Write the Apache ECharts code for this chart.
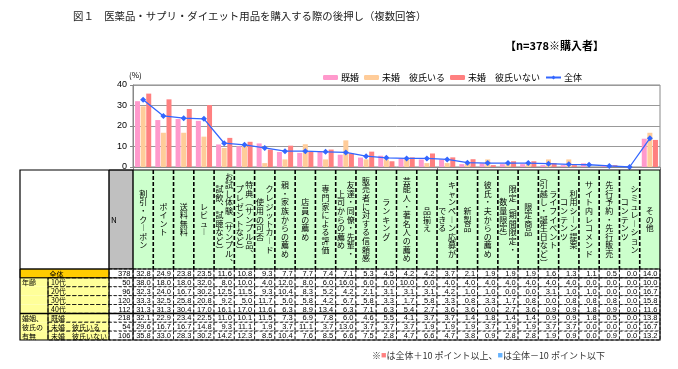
<!DOCTYPE html>
<html><head><meta charset="utf-8">
<script src="https://cdn.jsdelivr.net/npm/echarts@6/dist/echarts.min.js"></script>
<style>html,body{margin:0;padding:0;background:#fff}#c{width:678px;height:369px}</style>
</head><body><div id="c"></div>
<script>
// ---------- DATA ----------
const categories = ['割引・クーポン','ポイント','送料無料','レビュー','お試し体験（サンプル、試飲、試聴など）','特典（サンプル品、プレゼントなど）','クレジットカード使用の可否','親・家族からの薦め','店員の薦め','専門家による評価','友達・同僚・先輩・上司からの薦め','販売者に対する信頼感','ランキング','芸能人・著名人の薦め','品揃え','キャンペーン応募ができる','新製品','彼氏・夫からの薦め','限定（期間限定・数量限定）','限定商品','ライフイベント（引越し・誕生日など）','利用シーン提案コンテンツ','サイト内レコメンド','先行予約・先行販売','シミュレーションコンテンツ','その他'];
// header text split into vertical lines (right line first)
const headerLines = [['割引・クーポン'],['ポイント'],['送料無料'],['レビュー'],['お試し体験（サンプル、','試飲、試聴など）'],['特典（サンプル品、','プレゼントなど）'],['クレジットカード','使用の可否'],['親・家族からの薦め'],['店員の薦め'],['専門家による評価'],['友達・同僚・先輩・','上司からの薦め'],['販売者に対する信頼感'],['ランキング'],['芸能人・著名人の薦め'],['品揃え'],['キャンペーン応募が','できる'],['新製品'],['彼氏・夫からの薦め'],['限定（期間限定・','数量限定）'],['限定商品'],['ライフイベント','（引越し・誕生日など）'],['利用シーン提案','コンテンツ'],['サイト内レコメンド'],['先行予約・先行販売'],['シミュレーション','コンテンツ'],['その他']];
const seriesNames = ['既婚','未婚　彼氏いる','未婚　彼氏いない','全体'];
const total      = [32.8,24.9,23.8,23.5,11.6,10.8,9.3,7.7,7.7,7.4,7.1,5.3,4.5,4.2,4.2,3.7,2.1,1.9,1.9,1.9,1.6,1.3,1.1,0.5,0.0,14.0];
const teens      = [38.0,18.0,18.0,32.0,8.0,10.0,4.0,12.0,8.0,6.0,16.0,6.0,6.0,10.0,6.0,4.0,4.0,4.0,4.0,4.0,4.0,4.0,0.0,0.0,0.0,10.0];
const twenties   = [32.3,24.0,16.7,30.2,12.5,11.5,9.3,10.4,8.3,5.2,4.2,2.1,3.1,3.1,3.1,4.2,1.0,1.0,0.0,0.0,3.1,1.0,1.0,0.0,0.0,16.7];
const thirties   = [33.3,32.5,25.8,20.8,9.2,5.0,11.7,5.0,5.8,4.2,6.7,5.8,3.3,1.7,5.8,3.3,0.8,3.3,1.7,0.8,0.0,0.8,0.8,0.8,0.0,15.8];
const forties    = [31.3,31.3,30.4,17.0,16.1,17.0,11.6,6.3,8.9,13.4,6.3,7.1,6.3,5.4,2.7,3.6,3.6,0.0,2.7,3.6,0.9,0.9,1.8,0.9,0.0,11.6];
const married    = [32.1,22.9,23.4,22.5,11.0,10.1,11.5,7.3,6.9,7.8,6.0,4.6,5.5,4.1,3.7,3.7,1.4,1.8,1.4,1.4,0.9,0.9,1.8,0.5,0.0,13.8];
const singleBf   = [29.6,16.7,16.7,14.8,9.3,11.1,1.9,3.7,11.1,3.7,13.0,3.7,3.7,3.7,1.9,1.9,1.9,3.7,1.9,1.9,3.7,3.7,0.0,0.0,0.0,16.7];
const singleNoBf = [35.8,33.0,28.3,30.2,14.2,12.3,8.5,10.4,7.6,8.5,6.6,7.5,2.8,4.7,6.6,4.7,3.8,0.9,2.8,2.8,1.9,0.9,0.0,0.9,0.0,13.2];
const rowLabels   = ['全体','10代','20代','30代','40代','既婚','未婚　彼氏いる','未婚　彼氏いない'];
const groupLabels = ['','年齢','','','','婚姻、','彼氏の','有無'];
const rowN        = [378,50,96,120,112,218,54,106];
const yTicks = [0,10,20,30,40];

// ---------- LAYOUT ----------
const TL = 20, NL = 109, CL = 133, CR = 660, HT = 170, HB = 269, BB = 340;
const FONT = '"Noto Sans CJK JP", sans-serif';
const tableRows = [total, teens, twenties, thirties, forties, married, singleBf, singleNoBf];

const vmap = {'ー':'︱','（':'︵','）':'︶','、':'︑','－':'︱'};
function vert(s){ return Array.from(s).map(ch => vmap[ch] || ch).join('\n'); }

const bodyData = [];
tableRows.forEach((arr, r) => arr.forEach((v, c) => bodyData.push([c, r, v])));

function headerItem(params, api){
  const i = api.value(0);
  const p = api.coord([i, 0]), s = api.size([1, 1]);
  const x0 = p[0] - s[0]/2, y0 = p[1] - s[1]/2;
  const lines = headerLines[i];
  const children = [{type:'rect', shape:{x:x0, y:y0, width:s[0], height:s[1]},
    style:{fill:'#ccffcc', stroke:null}}];
  if (i > 0) children.push({type:'line', shape:{x1:x0, y1:y0, x2:x0, y2:y0+s[1]},
    style:{stroke:'#000', lineWidth:1.6, lineDash:[4,2]}});
  const off = lines.length === 2 ? [4.8, -4.8] : [0];
  lines.forEach((t, k) => children.push({type:'text', style:{text:vert(t), x:p[0]+off[k], y:p[1],
    align:'center', verticalAlign:'middle', fontSize:8, lineHeight:8.6, fill:'#000', fontFamily:FONT}}));
  return {type:'group', children};
}
function bodyItem(params, api){
  const c = api.value(0), r = api.value(1), v = api.value(2);
  const p = api.coord([c, r]), s = api.size([1, 1]);
  const x0 = p[0] - s[0]/2, y0 = p[1] - s[1]/2;
  let fill = '#fff';
  if (r > 0 && v >= total[c] + 10) fill = '#ff8080';
  if (r > 0 && v <= total[c] - 10) fill = '#66b3ff';
  return {type:'group', children:[
    {type:'rect', shape:{x:x0, y:y0, width:s[0], height:s[1]}, style:{fill, stroke:'#000', lineWidth:0.8, lineDash:[3,2]}},
    {type:'text', style:{text:v.toFixed(1), x:x0+s[0]-2.5, y:p[1]+0.5, align:'right', verticalAlign:'middle',
      fontSize:7.5, fill:'#000', fontFamily:'"Liberation Sans", sans-serif'}}
  ]};
}
function nItem(params, api){
  const r = api.value(1), n = api.value(2);
  const p = api.coord([0, r]), s = api.size([1, 1]);
  const x0 = p[0] - s[0]/2, y0 = p[1] - s[1]/2;
  return {type:'group', children:[
    {type:'rect', shape:{x:x0, y:y0, width:s[0], height:s[1]}, style:{fill:'#fff', stroke:'#000', lineWidth:0.8, lineDash:[3,2]}},
    {type:'text', style:{text:String(n), x:x0+s[0]-2.5, y:p[1]+0.5, align:'right', verticalAlign:'middle',
      fontSize:7.5, fill:'#000', fontFamily:'"Liberation Sans", sans-serif'}}
  ]};
}
function labelItem(params, api){
  const r = api.value(1);
  const p = api.coord([0, r]), s = api.size([1, 1]);
  const x0 = p[0] - s[0]/2, y0 = p[1] - s[1]/2, gw = 28;
  if (r === 0) return {type:'group', children:[
    {type:'rect', shape:{x:x0, y:y0, width:s[0], height:s[1]}, style:{fill:'#ffcc00', stroke:'#000', lineWidth:0.8}},
    {type:'text', style:{text:rowLabels[r], x:p[0]-8, y:p[1]+0.5, align:'center', verticalAlign:'middle', fontSize:7, fill:'#000', fontFamily:FONT}}
  ]};
  return {type:'group', children:[
    {type:'rect', shape:{x:x0, y:y0, width:gw, height:s[1]}, style:{fill:'#ffff99', stroke:null}},
    {type:'rect', shape:{x:x0+gw, y:y0, width:s[0]-gw, height:s[1]}, style:{fill:'#ffff99', stroke:'#000', lineWidth:0.8, lineDash:[4,2]}},
    {type:'text', style:{text:rowLabels[r], x:x0+gw+3, y:p[1]+0.5, align:'left', verticalAlign:'middle', fontSize:7, fill:'#000', fontFamily:FONT}},
    {type:'text', style:{text:groupLabels[r], x:x0+2, y:p[1]+0.5, align:'left', verticalAlign:'middle', fontSize:7, fill:'#000', fontFamily:FONT}}
  ]};
}
function nHeadItem(params, api){
  const p = api.coord([0, 0]), s = api.size([1, 1]);
  const x0 = p[0] - s[0]/2, y0 = p[1] - s[1]/2;
  return {type:'group', children:[
    {type:'rect', shape:{x:x0, y:y0, width:s[0], height:s[1]}, style:{fill:'#c0c0c0', stroke:'#000', lineWidth:0.8}},
    {type:'text', style:{text:'N', x:x0+2, y:p[1], align:'left', verticalAlign:'middle', fontSize:8, fill:'#000', fontFamily:FONT}}
  ]};
}

const rowIdx = rowLabels.map((_, i) => i);
const hidden = {show:false};
const chart = echarts.init(document.getElementById('c'), null, {renderer:'canvas'});
chart.setOption({
  animation:false,
  backgroundColor:'#fff',
  textStyle:{fontFamily:FONT},
  legend:{left:318, top:68, itemWidth:15, itemHeight:5, itemGap:5, data:seriesNames,
    textStyle:{fontSize:9, color:'#000', padding:[0,0,0,-2]}},
  grid:[
    {left:CL, top:85, width:CR-CL, height:82, show:true, borderColor:'#888', borderWidth:1},
    {left:CL, top:HT, width:CR-CL, height:HB-HT},
    {left:CL, top:HB, width:CR-CL, height:BB-HB},
    {left:NL, top:HT, width:CL-NL, height:HB-HT},
    {left:NL, top:HB, width:CL-NL, height:BB-HB},
    {left:TL, top:HB, width:NL-TL, height:BB-HB}
  ],
  xAxis:[
    {type:'category', data:categories, gridIndex:0, axisLabel:{show:false},
     axisLine:{lineStyle:{color:'#888'}}, axisTick:{show:true, length:3, lineStyle:{color:'#888'}}},
    {type:'category', data:categories, gridIndex:1, ...hidden},
    {type:'category', data:categories, gridIndex:2, ...hidden},
    {type:'category', data:['N'], gridIndex:3, ...hidden},
    {type:'category', data:['N'], gridIndex:4, ...hidden},
    {type:'category', data:['L'], gridIndex:5, ...hidden}
  ],
  yAxis:[
    {type:'value', gridIndex:0, min:yTicks[0], max:yTicks[yTicks.length-1], interval:10,
     name:'(%)', nameLocation:'end', nameGap:6, nameTextStyle:{fontSize:8, color:'#000', align:'left', padding:[0,0,0,-4]},
     axisLine:{show:true, lineStyle:{color:'#888'}}, axisTick:{show:true, length:3, lineStyle:{color:'#888'}},
     axisLabel:{fontSize:9, color:'#000', margin:6, fontFamily:'"Liberation Sans", sans-serif'},
     splitLine:{lineStyle:{color:'#999', width:1}}},
    {type:'category', data:['h'], gridIndex:1, ...hidden},
    {type:'category', data:rowLabels, gridIndex:2, inverse:true, ...hidden},
    {type:'category', data:['h'], gridIndex:3, ...hidden},
    {type:'category', data:rowLabels, gridIndex:4, inverse:true, ...hidden},
    {type:'category', data:rowLabels, gridIndex:5, inverse:true, ...hidden}
  ],
  series:[
    {name:seriesNames[0], type:'bar', data:married, barWidth:5, barGap:'12%', itemStyle:{color:'#ff99cc'}},
    {name:seriesNames[1], type:'bar', data:singleBf, barWidth:5, barGap:'12%', itemStyle:{color:'#ffcc99'}},
    {name:seriesNames[2], type:'bar', data:singleNoBf, barWidth:5, barGap:'12%', itemStyle:{color:'#ff8080'}},
    {name:seriesNames[3], type:'line', data:total, symbol:'diamond', symbolSize:6, z:5,
     lineStyle:{color:'#3366ff', width:1.3}, itemStyle:{color:'#3366ff'}},
    {type:'custom', xAxisIndex:1, yAxisIndex:1, data:categories.map((_, i) => [i, 0]), renderItem:headerItem, silent:true},
    {type:'custom', xAxisIndex:2, yAxisIndex:2, data:bodyData, renderItem:bodyItem, silent:true},
    {type:'custom', xAxisIndex:3, yAxisIndex:3, data:[[0, 0]], renderItem:nHeadItem, silent:true},
    {type:'custom', xAxisIndex:4, yAxisIndex:4, data:rowN.map((n, r) => [0, r, n]), renderItem:nItem, silent:true},
    {type:'custom', xAxisIndex:5, yAxisIndex:5, data:rowIdx.map(r => [0, r]), renderItem:labelItem, silent:true}
  ],
  graphic:[
    {type:'text', left:73, top:11, z:10, style:{text:'図１　医薬品・サプリ・ダイエット用品を購入する際の後押し（複数回答）', fontSize:10.4, fill:'#222', fontFamily:FONT}},
    {type:'text', left:505, top:40, z:10, style:{text:'【n=378※購入者】', fontSize:11, fontWeight:'bold', fill:'#000', fontFamily:FONT}},
    {type:'rect', z:20, silent:true, shape:{x:TL, y:HT, width:CR-TL, height:BB-HT}, style:{fill:null, stroke:'#000', lineWidth:1.2}},
    {type:'line', z:20, silent:true, shape:{x1:TL, y1:HB, x2:CR, y2:HB}, style:{stroke:'#000', lineWidth:1.2}},
    {type:'line', z:20, silent:true, shape:{x1:NL, y1:HT, x2:NL, y2:BB}, style:{stroke:'#000', lineWidth:1}},
    {type:'line', z:20, silent:true, shape:{x1:CL, y1:HT, x2:CL, y2:BB}, style:{stroke:'#000', lineWidth:1}},
    {type:'line', z:20, silent:true, shape:{x1:TL+28, y1:HB+(BB-HB)/8, x2:TL+28, y2:BB}, style:{stroke:'#000', lineWidth:1}},
    {type:'line', z:20, silent:true, shape:{x1:TL, y1:HB+(BB-HB)/8, x2:CR, y2:HB+(BB-HB)/8}, style:{stroke:'#000', lineWidth:1}},
    {type:'line', z:20, silent:true, shape:{x1:TL, y1:HB+(BB-HB)*5/8, x2:CR, y2:HB+(BB-HB)*5/8}, style:{stroke:'#000', lineWidth:1.5}},
    {type:'text', left:372, top:351, z:10, style:{text:'※{r|■}は全体＋10 ポイント以上、{b|■}は全体－10 ポイント以下',
      fontSize:9, fill:'#333', fontFamily:FONT, rich:{r:{fill:'#ff8080', fontSize:9}, b:{fill:'#66b3ff', fontSize:9}}}}
  ]
});
</script></body></html>
